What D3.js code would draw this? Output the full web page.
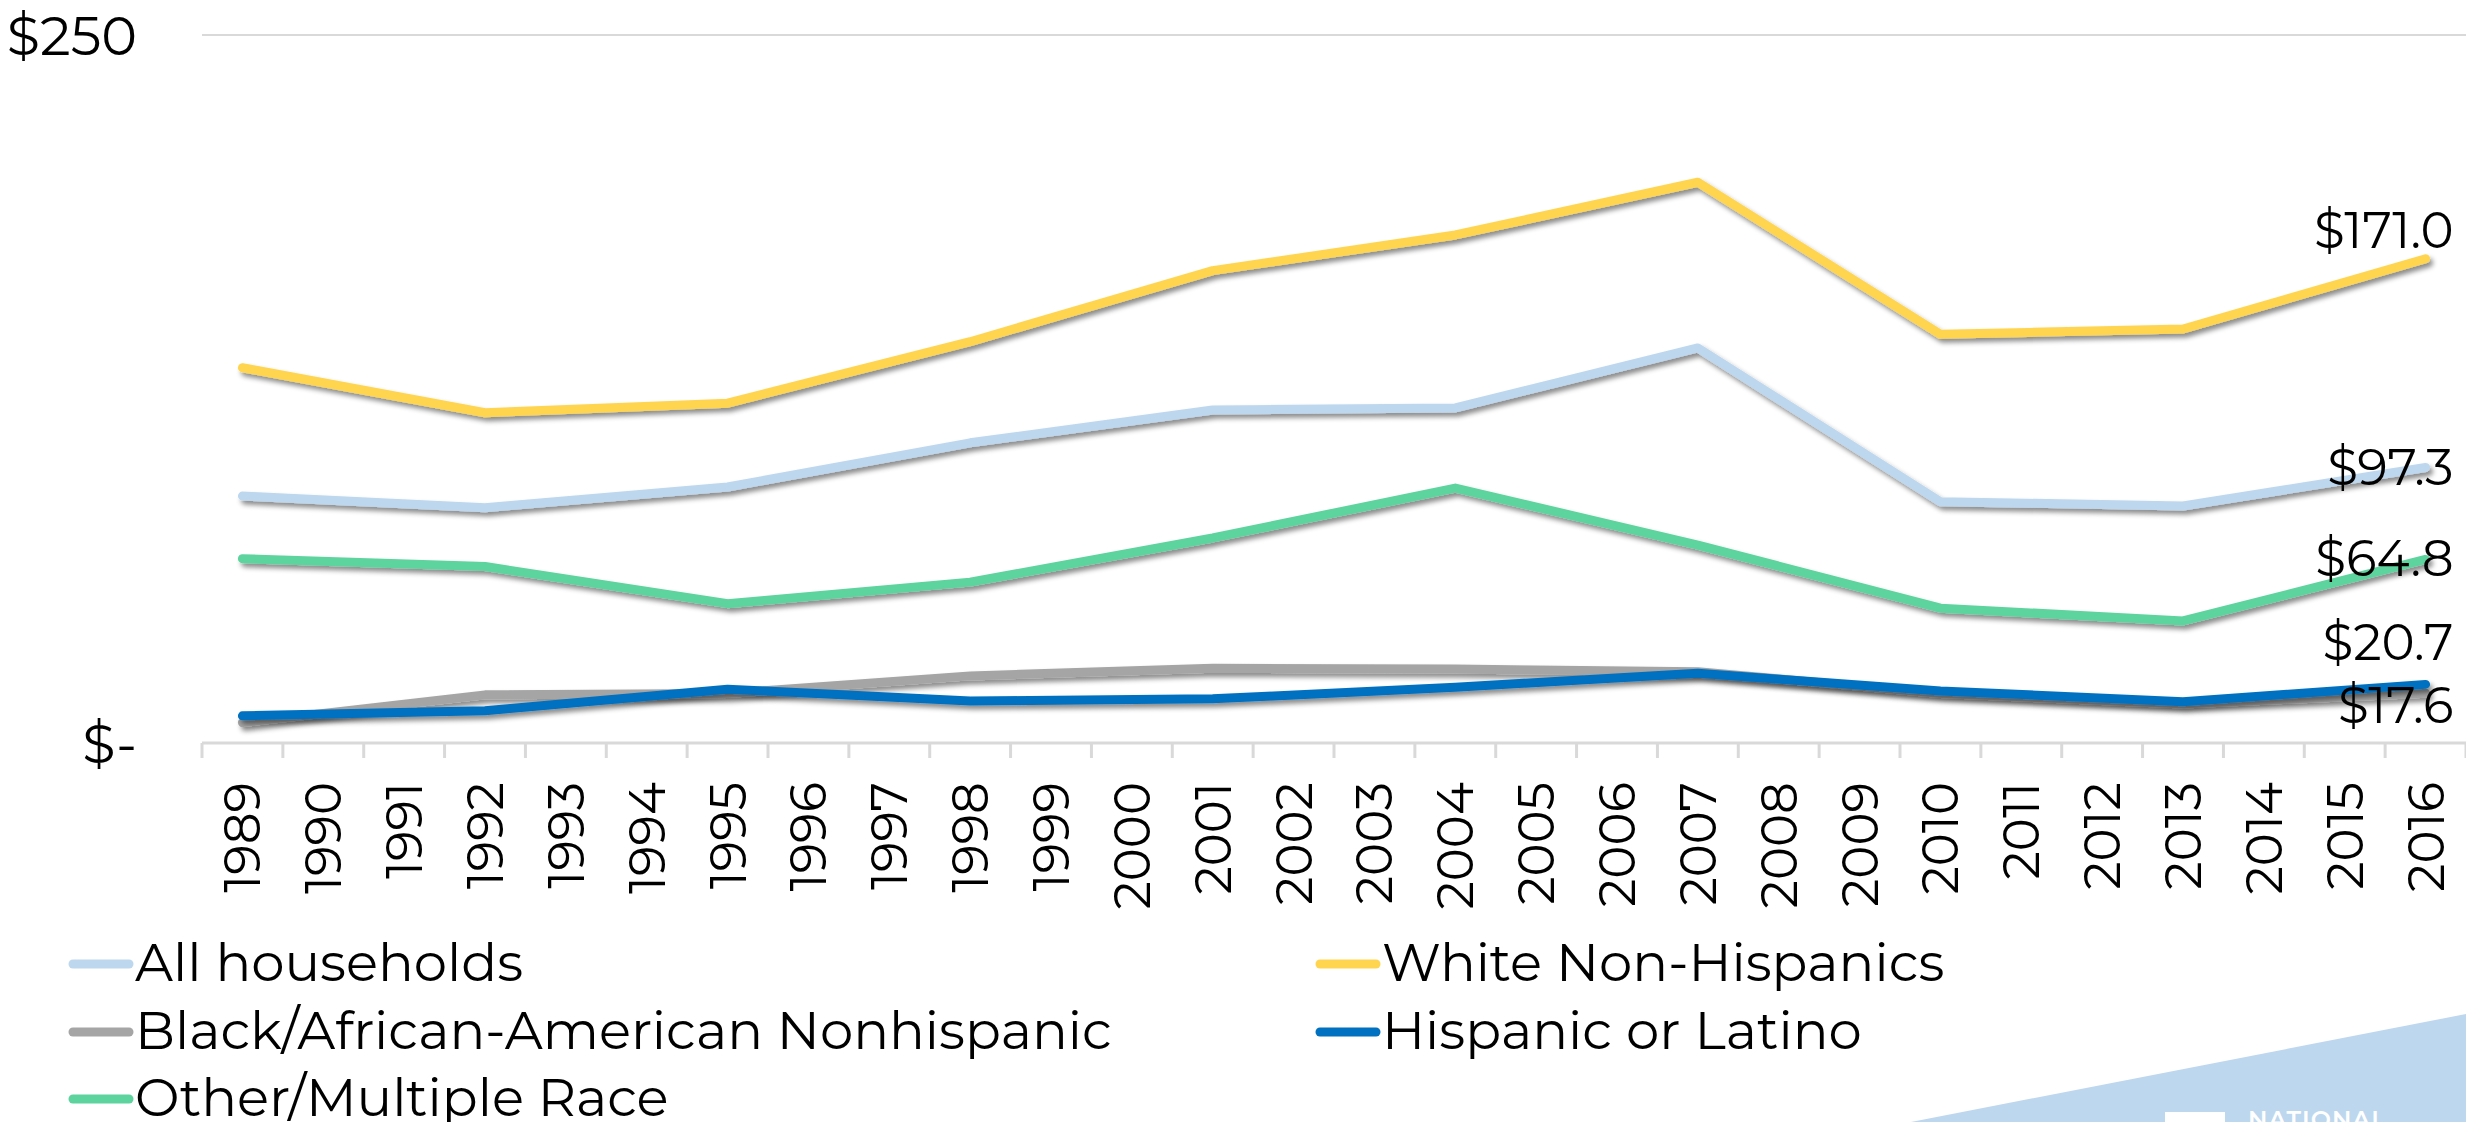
<!DOCTYPE html>
<html lang="en">
<head>
<meta charset="UTF-8">
<title>Median net worth by race and ethnicity</title>
<script src="https://cdn.jsdelivr.net/npm/d3@7"></script>
<style>
  html, body { margin: 0; padding: 0; background: #fff; }
  body { font-family: "Montserrat", "Open Sans", sans-serif; }
  svg { display: block; }
</style>
</head>
<body>
<div id="chart"></div>
<script>
// categories on the x axis (every year gets a tick label)
var years = d3.range(1989, 2017);

// survey years that carry a value
var surveyYears = [1989, 1992, 1995, 1998, 2001, 2004, 2007, 2010, 2013, 2016];

// series values, thousands of dollars
var allHouseholds = [87.2, 83.1, 90.4, 106.0, 117.6, 118.3, 139.5, 85.2, 83.7, 97.3];
var whiteNonHispanic = [132.5, 116.6, 120.0, 141.7, 166.8, 179.4, 198.0, 144.3, 146.2, 171.0];
var blackNonHispanic = [7.2, 17.0, 17.5, 23.7, 26.4, 26.1, 25.2, 17.5, 13.8, 17.6];
var hispanicLatino = [9.6, 11.4, 19.0, 14.8, 15.6, 19.7, 24.6, 18.4, 14.6, 20.7];
var otherMultiple = [65.1, 62.3, 49.2, 56.8, 72.4, 90.0, 69.9, 47.6, 43.1, 64.8];

var yTicks = [0, 250];

var series = [
  {name: "All households", values: allHouseholds, color: "#BDD7EE", labelDy: 18},
  {name: "White Non-Hispanics", values: whiteNonHispanic, color: "#FFD54F", labelDy: -11},
  {name: "Black/African-American Nonhispanic", values: blackNonHispanic, color: "#A5A5A5", labelDy: 30},
  {name: "Hispanic or Latino", values: hispanicLatino, color: "#0070C0", labelDy: -24},
  {name: "Other/Multiple Race", values: otherMultiple, color: "#5DD39E", labelDy: 17}
];

var W = 2466, H = 1122;
var margin = {top: 35, right: 0, bottom: 379, left: 202};
var width = W - margin.left - margin.right,
    height = H - margin.top - margin.bottom;

var svg = d3.select("#chart").append("svg")
  .attr("width", W)
  .attr("height", H);

// drop shadow like the office chart
var defs = svg.append("defs");
defs.append("filter")
    .attr("id", "shadow")
    .attr("x", "-5%").attr("y", "-50%")
    .attr("width", "110%").attr("height", "200%")
  .append("feDropShadow")
    .attr("dx", 3).attr("dy", 4)
    .attr("stdDeviation", 2.5)
    .attr("flood-color", "#000")
    .attr("flood-opacity", 0.45);

// corner decoration, bottom right
svg.append("polygon")
  .attr("points", [[1911, H], [W, 1014], [W, H]].join(" "))
  .attr("fill", "#BDD7EE");
svg.append("rect")
  .attr("x", 2165).attr("y", 1112)
  .attr("width", 60).attr("height", 40)
  .attr("fill", "#fff");
svg.append("text")
  .attr("x", 2248).attr("y", 1128)
  .attr("fill", "#fff")
  .style("font-size", "24px")
  .style("font-weight", 600)
  .style("letter-spacing", "1px")
  .text("NATIONAL");

var g = svg.append("g")
  .attr("transform", "translate(" + margin.left + "," + margin.top + ")");

var x = d3.scaleBand()
  .domain(years)
  .range([0, width])
  .padding(0);

var y = d3.scaleLinear()
  .domain([0, 250])
  .range([height, 0]);

function cx(year) { return x(year) + x.bandwidth() / 2; }

// gridline at the top value
g.append("g")
  .selectAll("line")
  .data(yTicks.filter(function(d) { return d > 0; }))
  .enter().append("line")
    .attr("x1", 0).attr("x2", width)
    .attr("y1", function(d) { return y(d); })
    .attr("y2", function(d) { return y(d); })
    .attr("stroke", "#D9D9D9")
    .attr("stroke-width", 2);

// y axis labels
var yAxis = g.append("g")
  .call(d3.axisLeft(y)
    .tickValues(yTicks)
    .tickSize(0)
    .tickPadding(65)
    .tickFormat(function(d) { return d === 0 ? "$-" : "$" + d; }));
yAxis.select(".domain").remove();
yAxis.selectAll("text")
  .attr("dy", "0.36em")
  .style("font-family", "Montserrat, 'Open Sans', sans-serif")
  .style("font-size", "54px")
  .attr("fill", "#000");

// x axis
var xAxis = g.append("g")
  .attr("transform", "translate(0," + height + ")")
  .call(d3.axisBottom(x).tickSize(0));
xAxis.select(".domain").remove();
xAxis.selectAll("text")
  .attr("transform", "rotate(-90)")
  .attr("x", -39)
  .attr("y", 0)
  .attr("dy", "0.36em")
  .attr("text-anchor", "end")
  .style("font-family", "Montserrat, 'Open Sans', sans-serif")
  .style("font-size", "50px")
  .attr("fill", "#000");

xAxis.append("line")
  .attr("x1", 0).attr("x2", width)
  .attr("stroke", "#D9D9D9")
  .attr("stroke-width", 3);

xAxis.append("g")
  .selectAll("line")
  .data(d3.range(years.length + 1))
  .enter().append("line")
    .attr("x1", function(i) { return i * x.step(); })
    .attr("x2", function(i) { return i * x.step(); })
    .attr("y1", 0).attr("y2", 15)
    .attr("stroke", "#D9D9D9")
    .attr("stroke-width", 3);

// lines
var line = d3.line()
  .x(function(d) { return cx(d.year); })
  .y(function(d) { return y(d.value); });

series.forEach(function(s) {
  var pts = surveyYears.map(function(yr, i) { return {year: yr, value: s.values[i]}; });
  g.append("path")
    .datum(pts)
    .attr("fill", "none")
    .attr("stroke", s.color)
    .attr("stroke-width", 9)
    .attr("stroke-linejoin", "round")
    .attr("stroke-linecap", "round")
    .attr("filter", "url(#shadow)")
    .attr("d", line);
});

// end labels for 2016
var lastYear = surveyYears[surveyYears.length - 1];
g.append("g")
  .selectAll("text")
  .data(series)
  .enter().append("text")
    .attr("x", cx(lastYear) + 28)
    .attr("y", function(s) { return y(s.values[s.values.length - 1]) + s.labelDy; })
    .attr("text-anchor", "end")
    .style("font-size", "50px")
    .attr("fill", "#000")
    .text(function(s) { return "$" + s.values[s.values.length - 1].toFixed(1); });

// legend, two columns in row order
var legend = svg.append("g");
var cols = [73, 1320], rows = [964, 1032, 1099];
var item = legend.selectAll("g")
  .data(series)
  .enter().append("g")
    .attr("transform", function(d, i) {
      return "translate(" + cols[i % 2] + "," + rows[Math.floor(i / 2)] + ")";
    });
item.append("line")
  .attr("x1", 0).attr("x2", 56)
  .attr("stroke", function(d) { return d.color; })
  .attr("stroke-width", 9)
  .attr("stroke-linecap", "round");
item.append("text")
  .attr("x", 62)
  .attr("y", 17)
  .style("font-size", "53px")
  .attr("fill", "#000")
  .text(function(d) { return d.name; });
</script>
</body>
</html>
